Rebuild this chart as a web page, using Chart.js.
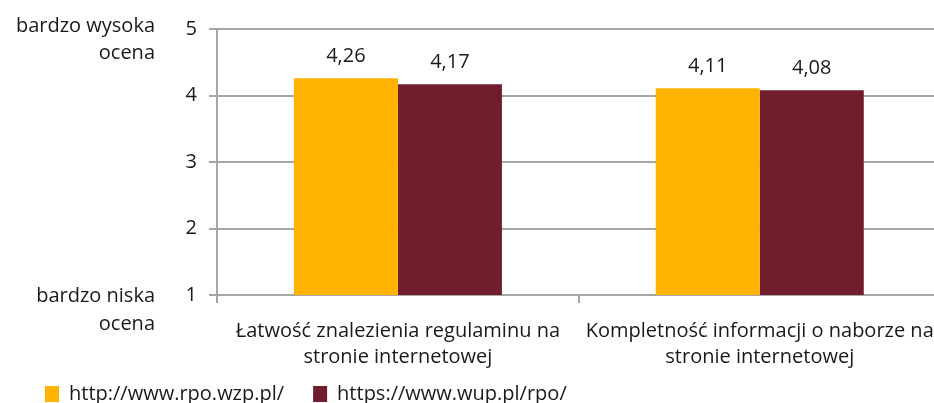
<!DOCTYPE html>
<html>
<head>
<meta charset="utf-8">
<script src="https://cdn.jsdelivr.net/npm/chart.js@4/dist/chart.umd.min.js"></script>
<style>
html,body{margin:0;padding:0;background:#fff;overflow:hidden;}
#wrap{position:relative;width:934px;height:403px;overflow:hidden;}
#c{position:absolute;left:0;top:0;}
</style>
</head>
<body>
<div id="wrap"><canvas id="c" width="950" height="431"></canvas></div>
<script>
const categories = [
  ["Łatwość znalezienia regulaminu na", "stronie internetowej"],
  ["Kompletność informacji o naborze na", "stronie internetowej"]
];
const seriesNames = ["http://www.rpo.wzp.pl/", "https://www.wup.pl/rpo/"];
const seriesRpo = [4.26, 4.11];
const seriesWup = [4.17, 4.08];
const yTicks = [1, 2, 3, 4, 5];
const topLabel = ["bardzo wysoka", "ocena"];
const bottomLabel = ["bardzo niska", "ocena"];

const FONT = "'Open Sans', 'Noto Sans', sans-serif";
const FS = 20;
const TEXT = "#1a1a1a";
const GRID = "#a6a6a6";
const LEGEND_PAD = 29;

const valueLabels = {
  id: 'valueLabels',
  afterDatasetsDraw(chart) {
    const ctx = chart.ctx;
    ctx.save();
    ctx.font = FS + "px " + FONT;
    ctx.fillStyle = TEXT;
    ctx.textAlign = 'center';
    ctx.textBaseline = 'middle';
    chart.data.datasets.forEach((ds, i) => {
      chart.getDatasetMeta(i).data.forEach((bar, j) => {
        ctx.fillText(ds.data[j].toFixed(2).replace('.', ','), bar.x, bar.y - 22);
      });
    });
    ctx.restore();
  }
};

const sideLabels = {
  id: 'sideLabels',
  afterDraw(chart) {
    const ctx = chart.ctx;
    const y = chart.scales.y;
    ctx.save();
    ctx.font = FS + "px " + FONT;
    ctx.fillStyle = TEXT;
    ctx.textAlign = 'right';
    ctx.textBaseline = 'middle';
    const yt = y.getPixelForValue(5);
    const yb = y.getPixelForValue(1);
    ctx.fillText(topLabel[0], 155, yt - 3);
    ctx.fillText(topLabel[1], 155, yt + 24);
    ctx.fillText(bottomLabel[0], 155, yb + 1);
    ctx.fillText(bottomLabel[1], 155, yb + 29);
    ctx.restore();
  }
};

// move the legend row up so it sits just below the category labels
const legendShift = {
  id: 'legendShift',
  afterLayout(chart) {
    const lg = chart.legend;
    if (!lg) return;
    const h = lg.bottom - lg.top;
    lg.top = 394 - FS / 2 - LEGEND_PAD;
    lg.bottom = lg.top + h;
  }
};

new Chart(document.getElementById('c'), {
  type: 'bar',
  data: {
    labels: categories,
    datasets: [
      { label: seriesNames[0], data: seriesRpo, backgroundColor: '#FFB300', borderWidth: 0 },
      { label: seriesNames[1], data: seriesWup, backgroundColor: '#701E2E', borderWidth: 0 }
    ]
  },
  options: {
    responsive: false,
    animation: false,
    devicePixelRatio: 1,
    layout: { padding: { left: 16, right: 5, top: 29, bottom: 0 } },
    categoryPercentage: 0.575,
    barPercentage: 1.0,
    scales: {
      x: {
        offset: true,
        afterFit(scale) { scale.height = 77; },
        grid: { offset: true, drawOnChartArea: false, drawTicks: true, tickLength: 8, color: GRID, lineWidth: 2 },
        border: { display: true, color: GRID, width: 2 },
        ticks: { color: TEXT, font: { family: FONT, size: FS, lineHeight: 1.3 }, maxRotation: 0, minRotation: 0, autoSkip: false, padding: 15 }
      },
      y: {
        min: 1, max: 5,
        afterFit(scale) { scale.width = 201; },
        afterBuildTicks(scale) { scale.ticks = yTicks.map(v => ({ value: v })); },
        grid: { color: GRID, lineWidth: 2, tickLength: 8 },
        border: { display: true, color: GRID, width: 2 },
        ticks: { color: TEXT, font: { family: FONT, size: FS }, padding: 12 }
      }
    },
    plugins: {
      legend: {
        position: 'bottom',
        align: 'start',
        labels: { color: TEXT, font: { family: FONT, size: FS }, boxWidth: 14, boxHeight: 16, padding: LEGEND_PAD }
      },
      tooltip: { enabled: false }
    }
  },
  plugins: [valueLabels, sideLabels, legendShift]
});
</script>
</body>
</html>
